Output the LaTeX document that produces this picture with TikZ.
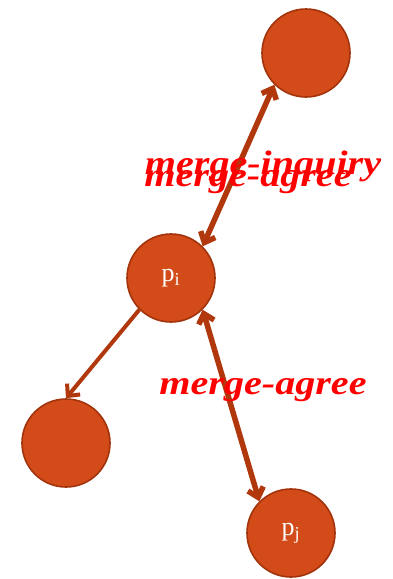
\documentclass[tikz,border=0pt]{standalone}
\usepackage{fontspec}
\setmainfont{Liberation Serif}
\usetikzlibrary{arrows.meta}
\definecolor{nodefill}{HTML}{D24B18}
\definecolor{nodeline}{HTML}{A3330B}
\definecolor{edgecol}{HTML}{B0380C}
\begin{document}
\begin{tikzpicture}[x=1pt,y=-1pt,
  vertex/.style={circle,draw=nodeline,fill=nodefill,line width=1.6pt,minimum size=88pt,inner sep=0pt,text=white,font=\fontsize{26}{26}\selectfont},
  thickedge/.style={draw=edgecol,line width=5.5pt,{Straight Barb[length=9pt,width=16pt]}-{Straight Barb[length=9pt,width=16pt]}},
  thinedge/.style={draw=edgecol,line width=4pt,-{Straight Barb[length=9pt,width=17pt]}},
  lbl/.style={text=red,font=\fontsize{34}{34}\selectfont\itshape\bfseries,inner sep=0pt,xscale=1.18}]
\useasboundingbox (0,0) rectangle (393,579);
\node[vertex] (top) at (306,53) {};
\node[vertex] (pi) at (171,278) {\raisebox{-3pt}{p\textsubscript{i}}};
\node[vertex] (left) at (66,443) {};
\node[vertex] (pj) at (291,533) {\raisebox{-3pt}{p\textsubscript{j}}};
\draw[thickedge] (pi.north east) -- (top.south west);
\draw[thinedge] (pi.south west) -- (left.north);
\draw[thickedge] (pi.south east) -- (pj.north west);
\node[lbl] (l1) at (263,166) {merge-inquiry};
\node[lbl] (l2) at (248,182) {merge-agree};
\node[lbl] (l3) at (263,390) {merge-agree};
\end{tikzpicture}
\end{document}
